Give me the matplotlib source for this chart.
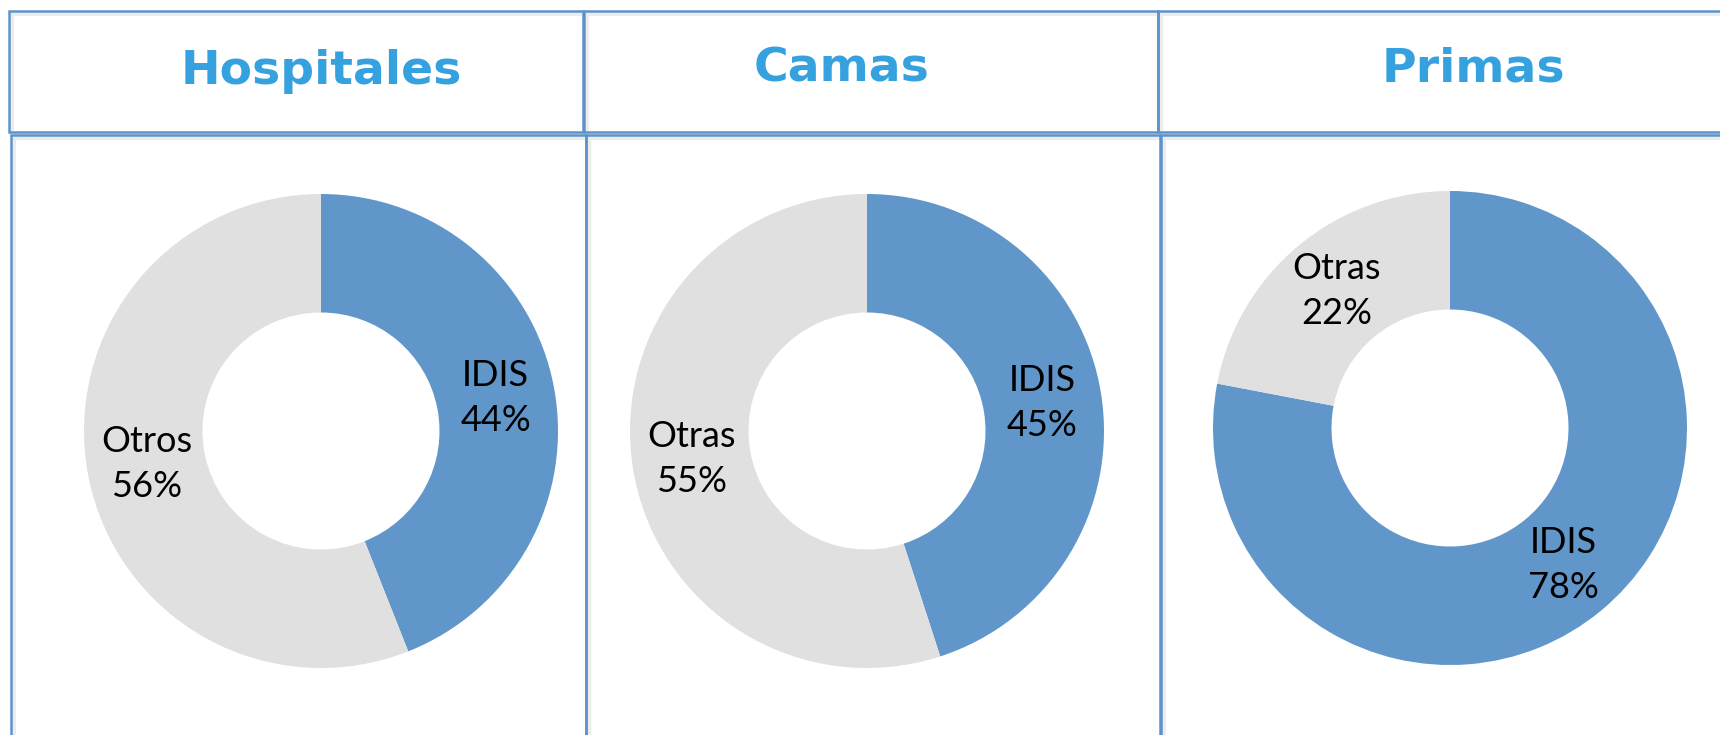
import matplotlib
matplotlib.use("Agg")
import matplotlib.pyplot as plt
from matplotlib.patches import Rectangle

# datos
titulos = ["Hospitales", "Camas", "Primas"]
categorias = [["IDIS", "Otros"], ["IDIS", "Otras"], ["IDIS", "Otras"]]
valores = [[44, 56], [45, 55], [78, 22]]

azul = "#6096C9"
gris = "#E0E0E0"
borde = "#5D93CB"
color_titulo = "#35A2DF"

W, H = 1720, 735
fig = plt.figure(figsize=(W / 100, H / 100), dpi=100)


def caja(x0, y0, x1, y1):
    # pixeles (origen arriba a la izquierda) -> fraccion de figura
    fig.add_artist(Rectangle((x0 / W + 0.0015, 1 - y1 / H - 0.004), (x1 - x0) / W, (y1 - y0) / H,
                             transform=fig.transFigure, fill=False, ec="#ececec", lw=3, zorder=1))
    fig.add_artist(Rectangle((x0 / W, 1 - y1 / H), (x1 - x0) / W, (y1 - y0) / H,
                             transform=fig.transFigure, fill=False, ec=borde, lw=1.8, zorder=2))


cabeceras = [(9, 11, 583, 132), (584, 11, 1158, 132), (1158, 11, 1730, 132)]
cuerpos = [(11, 135, 586, 745), (586, 135, 1160, 745), (1161, 135, 1730, 745)]
for c in cabeceras + cuerpos:
    caja(*c)

centros_titulo = [(321, 84), (842, 81), (1473, 82)]
for t, (x, y) in zip(titulos, centros_titulo):
    fig.text(x / W, 1 - y / H, t, ha="center", va="baseline", fontsize=34,
             fontweight="bold", color=color_titulo, family="DejaVu Sans")

centros = [(321, 431), (867, 431), (1450, 428)]
R = 237
for i, (cx, cy) in enumerate(centros):
    ax = fig.add_axes([(cx - R) / W, 1 - (cy + R) / H, 2 * R / W, 2 * R / H])
    etiquetas = [f"{c}\n{v}%" for c, v in zip(categorias[i], valores[i])]
    wedges, textos = ax.pie(valores[i], colors=[azul, gris], startangle=90, counterclock=False,
                            radius=1, labels=etiquetas, labeldistance=0.75,
                            wedgeprops=dict(width=0.5, linewidth=0),
                            textprops=dict(fontsize=26, family="Lato", color="black"))
    for t in textos:
        t.set_ha("center")
        t.set_va("center")
        t.set_multialignment("center")
        t.set_linespacing(1.45)
    ax.set_xlim(-1, 1)
    ax.set_ylim(-1, 1)
    ax.axis("off")

fig.savefig("out.png", dpi=100)
